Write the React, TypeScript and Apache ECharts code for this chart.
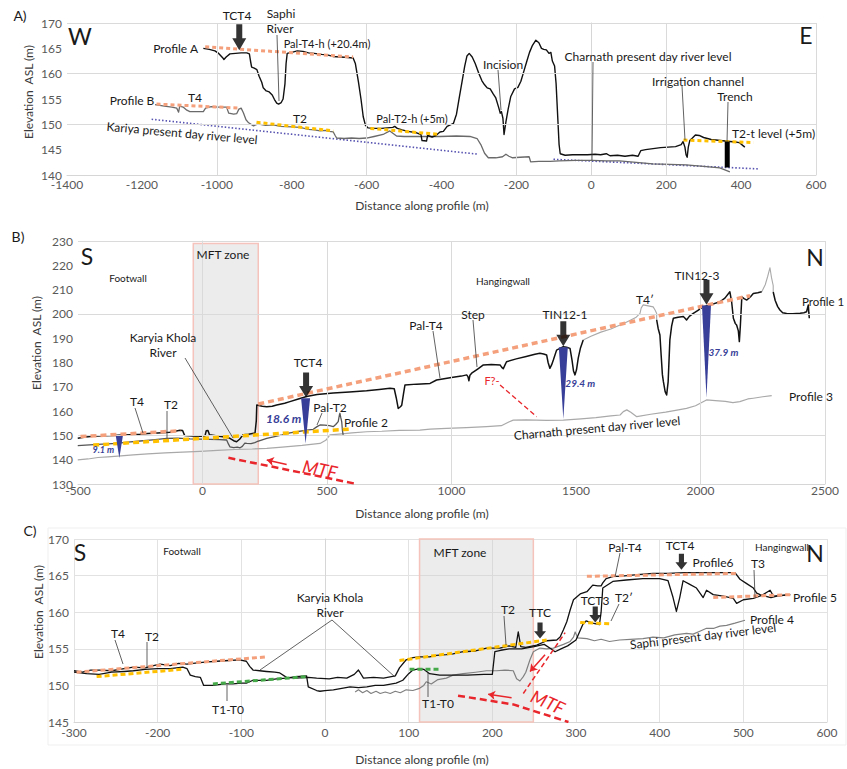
import React, { useEffect, useRef } from "react";
import * as echarts from "echarts";

const FONT = "Lato, 'Noto Sans', sans-serif";

// ---------- Panel A: W–E profiles ----------
const profileA: number[][] = [
  [-1036, 165.0], [-1020, 164.8], [-1005, 164.5], [-995, 164.0], [-985, 163.2], [-981, 162.8], [-975, 163.3],
  [-965, 163.9], [-950, 164.0], [-935, 164.1], [-920, 164.1], [-913, 163.9], [-910, 162.5], [-907, 161.3],
  [-900, 161.1], [-893, 160.8], [-887, 159.5], [-880, 158.3], [-876, 157.2], [-868, 156.6], [-860, 156.4],
  [-852, 155.8], [-846, 154.9], [-840, 154.2], [-835, 154.0], [-828, 154.3], [-823, 155.0], [-818, 158.0],
  [-815, 162.0], [-812, 164.0], [-800, 164.2], [-785, 164.5], [-770, 164.4], [-755, 164.1], [-740, 164.0],
  [-720, 163.8], [-705, 163.7], [-690, 163.4], [-670, 163.3], [-650, 163.2], [-636, 163.1], [-630, 162.0],
  [-622, 158.5], [-615, 155.0], [-609, 151.5], [-603, 149.8], [-596, 149.3], [-580, 149.2], [-560, 149.2],
  [-545, 149.3], [-530, 149.4], [-525, 149.6], [-518, 149.2], [-505, 148.9], [-490, 148.6], [-470, 148.4],
  [-455, 148.0], [-452, 146.8], [-440, 146.7], [-437, 147.8], [-425, 147.5], [-415, 147.8], [-404, 148.5],
  [-395, 148.6], [-385, 149.6], [-368, 150.2], [-360, 152.0], [-352, 155.5], [-345, 158.5], [-338, 161.5],
  [-332, 163.5], [-326, 164.0], [-318, 163.3], [-310, 162.0], [-300, 160.0], [-292, 158.6], [-285, 157.8],
  [-278, 157.2], [-270, 157.0], [-262, 156.0], [-255, 155.2], [-248, 153.5], [-243, 152.2], [-240, 152.5],
  [-236, 151.2], [-233, 148.0], [-228, 150.5], [-222, 153.0], [-215, 155.5], [-205, 157.0], [-196, 157.3],
  [-188, 158.5], [-180, 160.5], [-172, 162.5], [-165, 164.2], [-157, 165.6], [-148, 166.6], [-140, 166.1],
  [-133, 165.0], [-127, 164.8], [-120, 164.7], [-113, 164.0], [-108, 164.2], [-104, 162.5], [-98, 161.5],
  [-94, 158.0], [-90, 152.0], [-86, 146.0], [-83, 144.2], [-70, 143.9], [-50, 144.0], [-30, 144.0],
  [-10, 144.0], [10, 144.1], [25, 144.0], [40, 144.2], [50, 143.8], [70, 143.9], [90, 143.7], [110, 143.9],
  [125, 143.7], [132, 144.8], [145, 145.0], [165, 145.2], [185, 145.4], [205, 145.5], [225, 145.6],
  [240, 146.0], [245, 146.6], [250, 145.5], [253, 144.0], [256, 143.5], [259, 145.5], [263, 146.8],
  [270, 147.3], [278, 147.9], [288, 147.8], [300, 147.4], [320, 147.0], [345, 146.8], [370, 146.6],
  [385, 146.5], [395, 146.4], [405, 145.8], [410, 145.5],
];
const profileB: number[][] = [
  [-1165, 153.9], [-1140, 153.6], [-1120, 153.4], [-1107, 153.2], [-1102, 152.4], [-1099, 153.6],
  [-1090, 153.4], [-1080, 152.8], [-1072, 152.5], [-1050, 152.5], [-1036, 152.5], [-1030, 153.2],
  [-1015, 153.5], [-995, 153.4], [-974, 153.4], [-968, 152.2], [-955, 152.0], [-947, 152.1], [-941, 153.0],
  [-935, 153.2], [-929, 152.3], [-922, 150.9], [-915, 150.3], [-902, 149.7], [-893, 150.0], [-884, 150.0],
  [-870, 149.8], [-849, 149.9], [-830, 149.6], [-800, 149.5], [-778, 149.4], [-755, 149.0], [-740, 148.9],
  [-724, 148.7], [-710, 148.8], [-700, 148.6], [-689, 148.5], [-684, 147.8], [-680, 147.3], [-660, 147.2],
  [-640, 147.3], [-620, 147.2], [-600, 147.3], [-580, 147.6], [-556, 148.0], [-538, 148.7], [-520, 147.7],
  [-500, 147.6], [-470, 147.6], [-440, 147.6], [-404, 147.6], [-360, 147.7], [-324, 147.6], [-305, 147.2],
  [-295, 146.0], [-285, 144.3], [-275, 143.4], [-255, 143.4], [-237, 143.6], [-228, 144.1], [-220, 143.7],
  [-210, 143.4], [-190, 143.5], [-166, 143.6], [-162, 142.6], [-140, 142.7], [-110, 142.7], [-86, 142.8],
  [-40, 142.9], [3, 142.9], [40, 142.8], [75, 142.8], [120, 142.5], [164, 142.2], [210, 142.1],
  [253, 142.0], [300, 141.7], [343, 141.4], [360, 140.9], [370, 140.6],
];
const kariyaRiverA: number[][] = [[-1174, 151.0], [-302, 144.1]];
const charnathRiverA: number[][] = [[-101, 143.1], [446, 141.2]];
const palT4hA: number[][] = [[-1031, 165.3], [-636, 163.3]];
const t4A: number[][] = [[-1161, 154.0], [-938, 153.2]];
const t2A: number[][] = [[-894, 150.4], [-689, 148.7]];
const palT2hA: number[][] = [[-590, 149.2], [-404, 148.0]];
const t2tA: number[][] = [[246, 146.9], [433, 146.4]];
const trenchA: number[][] = [[363, 146.6], [363, 141.5]];

// ---------- Panel B: S–N profiles ----------
const profile1West: number[][] = [
  [-501, 148.8], [-470, 149.3], [-440, 149.6], [-400, 149.9], [-360, 150.0], [-320, 150.2], [-290, 150.3],
  [-251, 150.5], [-220, 150.8], [-180, 151.0], [-131, 151.3], [-105, 151.8], [-90, 152.1], [-80, 152.0],
  [-72, 150.0], [-40, 149.8], [-10, 149.6], [10, 149.8], [15, 151.9], [22, 152.0], [28, 150.3], [60, 149.8],
  [90, 149.3], [110, 148.8], [125, 147.8], [137, 147.4], [150, 148.5], [163, 150.3], [185, 150.5],
  [211, 151.0], [216, 156.0], [218, 162.5], [240, 162.0], [258, 161.8], [280, 162.0], [298, 162.5],
  [330, 163.2], [351, 163.9], [385, 165.0], [418, 166.0], [460, 166.8], [525, 167.4], [590, 167.9],
  [659, 168.4], [710, 168.9], [753, 169.4], [770, 169.2], [778, 165.5], [786, 161.1], [795, 161.8],
  [800, 162.4], [807, 167.0], [813, 170.7], [860, 171.1], [914, 171.4], [940, 172.8], [1000, 173.8],
  [1040, 174.4], [1061, 174.9], [1066, 174.2], [1070, 172.5], [1074, 174.8], [1081, 175.6], [1105, 177.3],
  [1128, 179.0], [1160, 179.2], [1195, 179.0], [1202, 178.0], [1208, 177.4], [1214, 178.8], [1221, 180.3],
  [1260, 181.5], [1300, 182.5], [1335, 183.4], [1355, 183.8], [1370, 183.5], [1382, 183.1], [1388, 180.0],
  [1395, 177.6], [1402, 179.0], [1409, 181.0], [1422, 185.1], [1449, 186.5], [1462, 186.3], [1476, 185.8],
  [1484, 181.0], [1490, 176.5], [1496, 174.9], [1502, 177.0], [1509, 181.8], [1518, 186.0], [1529, 189.3],
];
const profile1Central: number[][] = [
  [1824, 197.5], [1830, 194.0], [1837, 191.3], [1842, 183.0], [1847, 175.0], [1851, 172.1], [1858, 168.0],
  [1864, 166.6], [1870, 172.0], [1877, 189.3], [1884, 195.0], [1891, 198.2], [1910, 198.6], [1931, 198.9],
  [1938, 198.2], [1944, 197.5], [1955, 199.0], [1971, 200.2], [1990, 201.5], [2011, 203.0], [2040, 203.7],
  [2078, 205.0], [2098, 206.5], [2118, 209.1], [2125, 205.0], [2132, 198.2], [2140, 196.0], [2145, 195.4],
  [2152, 193.0], [2156, 188.6], [2160, 195.0], [2166, 207.0], [2175, 206.3], [2186, 205.7], [2200, 207.0],
  [2212, 208.4], [2230, 208.7], [2246, 209.1],
];
const profile1East: number[][] = [
  [2292, 209.0], [2300, 205.5], [2310, 203.0], [2319, 201.6], [2330, 200.5], [2346, 200.2], [2370, 200.1],
  [2386, 200.2], [2400, 200.3], [2415, 200.5], [2426, 200.9], [2433, 203.7], [2435, 200.5], [2437, 198.2],
];
const profile1Gap1: number[][] = [
  [1529, 189.3], [1560, 190.8], [1600, 192.5], [1640, 193.8], [1677, 195.4], [1700, 196.5], [1720, 197.5],
  [1740, 198.5], [1757, 200.2], [1762, 202.5], [1770, 203.7], [1790, 203.3], [1810, 202.9], [1818, 201.5],
  [1824, 200.2], [1824, 197.5],
];
const profile1Gap2: number[][] = [
  [2246, 209.1], [2260, 212.0], [2270, 215.5], [2279, 219.0], [2285, 215.0], [2292, 211.6], [2292, 209.0],
];
const profile2: number[][] = [
  [-501, 145.8], [-470, 146.0], [-420, 146.3], [-345, 146.7], [-300, 147.2], [-250, 147.7], [-200, 148.2],
  [-144, 148.8], [-100, 148.9], [-50, 148.6], [-10, 148.5], [30, 148.4], [70, 148.3], [97, 148.1],
  [104, 146.5], [110, 145.3], [125, 145.0], [140, 145.2], [151, 144.9], [160, 145.5], [170, 146.8],
  [178, 146.7], [195, 146.6], [210, 147.0], [218, 147.4], [240, 148.2], [258, 148.8], [290, 149.5],
  [320, 150.2], [351, 151.0], [385, 151.6], [418, 152.2], [445, 152.5], [460, 153.6], [472, 154.3],
  [490, 154.2], [510, 154.0], [525, 153.6], [535, 154.5], [545, 155.7], [550, 158.5], [552, 159.1],
  [555, 157.5], [559, 155.7], [562, 152.0], [565, 150.2],
];
const profile3: number[][] = [
  [-501, 139.9], [-460, 140.3], [-420, 140.9], [-380, 141.2], [-340, 141.5], [-278, 142.0], [-220, 142.4],
  [-150, 142.8], [-80, 143.1], [-10, 143.4], [60, 143.8], [130, 144.2], [200, 144.4], [258, 144.7],
  [320, 145.2], [400, 145.9], [472, 146.7], [495, 148.0], [512, 150.2], [560, 150.6], [600, 151.0],
  [659, 151.5], [720, 151.7], [790, 152.1], [873, 152.2], [914, 152.6], [980, 152.9], [1060, 153.2],
  [1141, 153.6], [1200, 154.0], [1230, 155.5], [1248, 156.3], [1300, 156.4], [1380, 156.2], [1449, 156.3],
  [1520, 156.8], [1580, 157.3], [1640, 158.0], [1677, 158.4], [1690, 159.8], [1704, 160.5], [1720, 159.5],
  [1744, 157.7], [1800, 158.7], [1860, 159.6], [1900, 160.3], [1944, 161.1], [1980, 162.2], [2024, 164.6],
  [2060, 164.3], [2100, 164.0], [2130, 163.5], [2158, 163.9], [2190, 165.0], [2212, 165.3], [2250, 165.9],
  [2286, 166.4],
];
const palT4B: number[][] = [[224, 162.9], [2199, 207.5]];
const t4B: number[][] = [[-490, 149.5], [-88, 151.9]];
const palT2B: number[][] = [[-439, 146.0], [592, 152.6]];
const mtfB: number[][] = [[104, 140.8], [620, 130.0]];
const faultB: number[][] = [[1195, 170.7], [1342, 157.7]];
const slipB: number[][] = [[338, 138.0], [258, 139.9]];
const mftZoneB: number[] = [-37, 224];
// vertical offsets of terrace surfaces above the river (m)
const offsetX: number[] = [-334, 414, 1449, 2024];
const offsetTop: number[] = [149.8, 165.3, 186.3, 203.5];
const offsetValue: number[] = [9.1, 18.6, 29.4, 37.9];

// ---------- Panel C: S–N profiles ----------
const profile6: number[][] = [
  [-300, 152.0], [-290, 151.8], [-280, 152.1], [-269, 152.1], [-255, 152.0], [-240, 152.3], [-229, 152.5],
  [-215, 152.4], [-205, 152.7], [-197, 152.9], [-185, 152.7], [-175, 153.0], [-165, 152.9], [-150, 153.1],
  [-140, 153.2], [-129, 153.3], [-115, 153.4], [-102, 153.5], [-94, 153.3], [-90, 152.6], [-86, 152.1],
  [-78, 152.0], [-70, 151.9], [-60, 151.8], [-54, 151.7], [-46, 151.1], [-35, 151.0], [-20, 151.1],
  [-10, 151.0], [5, 150.9], [15, 151.1], [26, 151.0], [35, 151.5], [40, 152.1], [46, 151.0], [58, 151.1],
  [70, 151.0], [84, 151.3], [89, 152.4], [97, 153.5], [105, 153.8], [113, 153.9], [125, 153.9], [133, 154.1],
  [145, 154.2], [153, 154.3], [165, 154.6], [180, 154.7], [193, 155.1], [209, 155.1], [220, 155.4],
  [228, 155.2], [231, 157.3], [234, 155.3], [240, 155.2], [253, 155.5], [265, 156.1], [277, 156.2],
  [281, 156.6], [285, 157.6], [289, 158.7], [293, 160.3], [297, 161.7], [305, 162.5], [313, 162.8],
  [320, 163.7], [326, 163.6], [330, 163.6], [332, 164.0], [336, 164.6], [345, 164.9], [352, 164.9],
  [370, 165.1], [392, 165.3], [410, 165.3], [430, 165.4], [450, 165.4], [470, 165.4], [490, 165.4],
  [496, 164.5], [504, 163.9], [512, 163.3], [516, 162.6], [520, 162.4], [526, 162.2], [533, 162.0],
  [540, 162.2], [548, 162.3], [556, 162.4],
];
const profile5: number[][] = [
  [-300, 151.8], [-285, 151.6], [-270, 151.5], [-255, 151.8], [-240, 151.9], [-229, 152.0], [-215, 152.2],
  [-200, 152.3], [-185, 152.3], [-170, 152.5], [-165, 152.3], [-161, 151.4], [-155, 151.2], [-149, 151.1],
  [-145, 150.0], [-134, 150.0], [-120, 150.2], [-110, 150.2], [-100, 150.3], [-94, 150.3], [-86, 150.7],
  [-70, 150.7], [-58, 150.9], [-46, 151.0], [-35, 151.2], [-22, 151.3], [-20, 149.8], [-10, 149.3],
  [-6, 149.2], [0, 149.3], [10, 149.4], [20, 149.6], [30, 149.8], [40, 149.7], [50, 149.8], [60, 150.0],
  [70, 150.0], [80, 150.2], [85, 150.3], [93, 150.7], [100, 151.6], [105, 152.1], [113, 152.3],
  [118, 152.2], [125, 151.6], [137, 151.4], [150, 151.4], [170, 151.4], [190, 151.5], [200, 151.5],
  [203, 154.6], [210, 154.8], [220, 155.0], [235, 155.0], [250, 155.3], [262, 155.6], [270, 155.0],
  [275, 154.6], [282, 155.0], [290, 155.4], [300, 156.2], [308, 158.3], [312, 158.8], [320, 158.5],
  [328, 158.3], [330, 160.0], [332, 163.3], [344, 164.2], [360, 164.4], [380, 164.6], [400, 164.6],
  [410, 164.3], [416, 162.0], [420, 160.1], [424, 162.0], [428, 164.3], [436, 163.8], [444, 163.3],
  [452, 162.0], [456, 163.0], [464, 162.4], [476, 162.2], [488, 161.9], [492, 161.2], [500, 161.7],
  [512, 161.9], [522, 162.3], [532, 163.0], [536, 162.2], [546, 162.3], [556, 162.4],
];
const profile4: number[][] = [
  [36, 149.1], [40, 149.4], [45, 149.0], [50, 149.3], [55, 148.9], [61, 149.2], [66, 148.9], [72, 149.1],
  [78, 148.9], [84, 149.2], [90, 149.0], [97, 149.4], [105, 149.3], [113, 149.6], [118, 150.0],
  [121, 150.5], [127, 150.2], [135, 150.8], [145, 151.0], [153, 151.4], [165, 151.6], [180, 151.8],
  [193, 152.0], [205, 152.0], [215, 152.1], [225, 152.0], [229, 150.9], [233, 150.6], [237, 151.2],
  [240, 151.8], [245, 153.5], [249, 154.6], [257, 155.1], [265, 155.0], [273, 155.1], [285, 155.6],
  [293, 156.0], [297, 156.6], [299, 157.3], [302, 156.5], [313, 156.4], [322, 156.1], [330, 156.3],
  [340, 156.0], [352, 156.2], [365, 156.3], [380, 156.4], [392, 156.6], [405, 156.5], [418, 156.9],
  [432, 157.1], [440, 157.0], [448, 157.4], [456, 157.8], [465, 157.8], [472, 158.1], [480, 158.2],
  [490, 158.5], [502, 158.9],
];
const t4C: number[][] = [[-297, 151.8], [-70, 153.9]];
const t2C: number[][] = [[-273, 151.2], [-171, 152.2]];
const t1t0C: number[][] = [[-134, 150.2], [-22, 151.2]];
const t1t0MftC: number[][] = [[101, 152.2], [139, 152.2]];
const t2MftC: number[][] = [[89, 153.4], [265, 156.2]];
const palT4C: number[][] = [[313, 164.9], [492, 165.3]];
const t3C: number[][] = [[464, 162.0], [556, 162.4]];
const t2PrimeC: number[][] = [[305, 158.6], [342, 158.4]];
const mtfC: number[][] = [[159, 148.6], [225, 147.4], [291, 145.0]];
const splayC: number[][] = [[237, 148.9], [287, 157.2]];
const slipC1: number[][] = [[263, 154.2], [245, 151.9]];
const slipC2: number[][] = [[223, 148.3], [195, 148.8]];
const mftZoneC: number[] = [113, 249];

// Sample sites (arrow tips)
const sitesA: [string, number, number][] = [["TCT4", -940, 164.6]];
const sitesB: [string, number, number][] = [["TCT4", 416, 165.6], ["TIN12-1", 1449, 186.7], ["TIN12-3", 2024, 203.8]];
const sitesC: [string, number, number][] = [["TTC", 257, 156.4], ["TCT3", 323, 158.6], ["TCT4", 426, 165.8]];

const ORANGE = "#f5a07c";
const YELLOW = "#ffc000";
const GREEN = "#45a849";
const RED = "#e8262b";
const PURPLE = "#5652b0";
const BLUE = "#383f98";
const ARROW = "path://M4,0 L10,0 L10,14 L14,14 L7,26 L0,14 L4,14 Z";

function line(g: number, data: number[][], color: string, width: number, type: any = "solid", z = 4) {
  return {
    type: "line", xAxisIndex: g, yAxisIndex: g, data, symbol: "none", showSymbol: false,
    silent: true, z, lineStyle: { color, width, type, cap: "butt", join: "round" },
  };
}

function frame(g: number, corner: number[], xs: number[], ys: number[], zone?: number[], zoneY?: number[]) {
  const s: any = {
    type: "line", xAxisIndex: g, yAxisIndex: g, data: [corner], symbol: "none", silent: true, z: 1,
    lineStyle: { width: 0 },
    markLine: {
      silent: true, symbol: "none", label: { show: false },
      lineStyle: { color: "#dadada", width: 1, type: "solid" },
      data: [...xs.map((v) => ({ xAxis: v })), ...ys.map((v) => ({ yAxis: v }))],
    },
  };
  if (zone) {
    const a: any = { xAxis: zone[0] };
    const b: any = { xAxis: zone[1] };
    if (zoneY) {
      a.yAxis = zoneY[0];
      b.yAxis = zoneY[1];
    }
    s.markArea = {
      silent: true,
      itemStyle: { color: "rgba(205,205,205,0.38)", borderColor: "#f5c3bb", borderWidth: 1.5 },
      data: [[a, b]],
    };
  }
  return s;
}

function arrows(g: number, sites: [string, number, number][], w: number, h: number) {
  return {
    type: "scatter", xAxisIndex: g, yAxisIndex: g, silent: true, z: 8,
    symbol: ARROW, symbolSize: [w, h], symbolOffset: [0, "-50%"],
    itemStyle: { color: "#000" },
    data: sites.map((s) => ({ name: s[0], value: [s[1], s[2]] })),
  };
}

function slip(g: number, seg: number[][]) {
  return {
    type: "line", xAxisIndex: g, yAxisIndex: g, data: [seg[0]], symbol: "none", silent: true, z: 6,
    lineStyle: { width: 0 },
    markLine: {
      silent: true, symbol: ["none", "arrow"], symbolSize: 7, label: { show: false },
      lineStyle: { color: RED, width: 1.5, type: "solid" },
      data: [[{ coord: seg[0] }, { coord: seg[1] }]],
    },
  };
}

function txt(x: number, y: number, text: string, o: any = {}) {
  return {
    type: "text", x, y, rotation: o.rot || 0, silent: true, z: 100,
    style: {
      text, fill: o.color || "#1a1a1a", fontSize: o.size || 12, fontFamily: FONT,
      fontStyle: o.italic ? "italic" : "normal", fontWeight: o.bold ? "bold" : "normal",
      align: o.align || "center", verticalAlign: "middle",
    },
  };
}
function lead(x1: number, y1: number, x2: number, y2: number) {
  return { type: "line", silent: true, z: 99, shape: { x1, y1, x2, y2 }, style: { stroke: "#3a3a3a", lineWidth: 0.8 } };
}

const axisLabel = (margin: number) => ({
  color: "#595959", fontSize: 12, lineHeight: 11, fontFamily: FONT, margin, formatter: (v: number) => String(v),
});
function xAx(g: number, min: number, max: number, interval: number, margin: number, split: boolean) {
  return {
    gridIndex: g, type: "value", min, max, interval,
    axisLine: { show: true, onZero: false, lineStyle: { color: "#d6d6d6" } },
    axisTick: { show: false }, axisLabel: axisLabel(margin),
    splitLine: { show: split, lineStyle: { color: "#e2e2e2" } },
  };
}
function yAx(g: number, min: number, max: number, interval: number, split: boolean) {
  return {
    gridIndex: g, type: "value", min, max, interval,
    axisLine: { show: true, lineStyle: { color: "#d6d6d6" } },
    axisTick: { show: false }, axisLabel: axisLabel(5),
    splitLine: { show: split, lineStyle: { color: "#e2e2e2" } },
  };
}

const labelShift: number[][] = [[-16, 14], [-22, 20], [17, 36], [17, 47]];

export default function App() {
  const ref = useRef<HTMLDivElement>(null);
  useEffect(() => {
    if (!ref.current) return;
    const chart = echarts.init(ref.current, undefined, { renderer: "svg" });

    const offsets = {
      type: "custom", xAxisIndex: 1, yAxisIndex: 1, silent: true, z: 7,
      data: offsetX.map((x, i) => [x, offsetTop[i], offsetValue[i], i]),
      renderItem: (_p: any, api: any) => {
        const x = api.value(0), top = api.value(1), v = api.value(2), i = api.value(3);
        const a = api.coord([x, top]);
        const b = api.coord([x, top - v]);
        const hw = i === 0 ? 3.5 : 4.5;
        const sh = labelShift[i];
        return {
          type: "group",
          children: [
            { type: "polygon", shape: { points: [[a[0] - hw, a[1]], [a[0] + hw, a[1]], [b[0], b[1]]] }, style: { fill: BLUE } },
            {
              type: "text", x: a[0] + sh[0], y: a[1] + sh[1],
              style: {
                text: `${v} m`, fill: BLUE, fontFamily: FONT, fontStyle: "italic", fontWeight: "bold",
                fontSize: i === 0 ? 9 : i === 1 ? 12 : 10, align: "center", verticalAlign: "middle",
              },
            },
          ],
        };
      },
    };

    const graphic: any[] = [
      { type: "rect", silent: true, z: 0, shape: { x: 48, y: 528, width: 798, height: 217 }, style: { fill: "none", stroke: "#efefef", lineWidth: 1 } },
      // axis titles
      txt(28, 92, "Elevation  ASL (m)", { rot: Math.PI / 2, color: "#3a3a3a" }),
      txt(36, 343, "Elevation  ASL (m)", { rot: Math.PI / 2, color: "#3a3a3a" }),
      txt(38, 612, "Elevation  ASL (m)", { rot: Math.PI / 2, color: "#3a3a3a" }),
      txt(422, 205, "Distance along profile (m)", { color: "#3a3a3a" }),
      txt(422, 513, "Distance along profile (m)", { color: "#3a3a3a" }),
      txt(422, 759, "Distance along profile (m)", { color: "#3a3a3a" }),
      // panel A
      txt(20, 15, "A)", { size: 14 }),
      txt(80, 36, "W", { size: 23 }),
      txt(806, 35, "E", { size: 23 }),
      txt(237, 15, "TCT4"),
      txt(281, 13, "Saphi"), txt(280, 28, "River"),
      lead(277, 35, 279, 101),
      txt(198, 48, "Profile A", { align: "right" }),
      txt(327, 43, "Pal-T4-h (+20.4m)", { size: 11 }),
      txt(132, 100, "Profile B"),
      txt(195, 97, "T4"),
      txt(300, 118, "T2"),
      txt(182, 133, "Kariya present day river level", { rot: -0.09 }),
      txt(412, 118, "Pal-T2-h (+5m)", { size: 11 }),
      txt(503, 64, "Incision"), lead(498, 70, 501, 110),
      txt(648, 56, "Charnath present day river level"), lead(593, 62, 592, 160),
      txt(698, 81, "Irrigation channel"), lead(682, 86, 685, 140),
      txt(735, 96, "Trench"), lead(728, 102, 727, 142),
      txt(732, 133, "T2-t level (+5m)", { align: "left" }),
      // panel B
      txt(18, 236, "B)", { size: 14 }),
      txt(87, 256, "S", { size: 23 }),
      txt(128, 278, "Footwall", { size: 10 }),
      txt(223, 254, "MFT zone"),
      txt(503, 281, "Hangingwall", { size: 10 }),
      txt(815, 257, "N", { size: 23 }),
      txt(163, 337, "Karyia Khola"), txt(163, 352, "River"),
      lead(185, 358, 233, 438),
      txt(308, 362, "TCT4"),
      txt(330, 407, "Pal-T2"), lead(322, 413, 317, 425),
      txt(366, 422, "Profile 2"),
      txt(137, 401, "T4"), lead(135, 408, 143, 433),
      txt(171, 404, "T2"), lead(167, 411, 167, 438),
      txt(320, 469, "MTF", { color: RED, size: 18, italic: true, rot: -0.2 }),
      txt(426, 325, "Pal-T4"), lead(433, 331, 440, 378),
      txt(473, 314, "Step"), lead(473, 320, 477, 367),
      txt(565, 314, "TIN12-1"),
      txt(645, 299, "T4\u2032"),
      txt(697, 275, "TIN12-3"),
      txt(802, 301, "Profile 1", { align: "left", size: 11.5 }),
      txt(789, 396, "Profile 3", { align: "left" }),
      txt(492, 380, "F?-", { color: RED, size: 11 }),
      txt(597, 428, "Charnath present day river level", { rot: 0.09 }),
      // panel C
      txt(30, 530, "C)", { size: 14 }),
      txt(80, 552, "S", { size: 23 }),
      txt(182, 551, "Footwall", { size: 10 }),
      txt(460, 552, "MFT zone"),
      txt(782, 547, "Hangingwall", { size: 10 }),
      txt(815, 553, "N", { size: 23 }),
      txt(330, 597, "Karyia Khola"), txt(330, 612, "River"),
      lead(332, 620, 260, 670), lead(332, 620, 395, 677),
      txt(118, 633, "T4"), lead(115, 640, 123, 664),
      txt(152, 636, "T2"), lead(147, 642, 147, 667),
      txt(228, 709, "T1-T0"), lead(227, 701, 227, 685),
      txt(438, 703, "T1-T0"), lead(428, 697, 428, 672),
      txt(508, 609, "T2"), lead(504, 616, 506, 645),
      txt(540, 612, "TTC"),
      txt(595, 600, "TCT3"),
      txt(624, 597, "T2\u2032"), lead(619, 604, 611, 621),
      txt(625, 547, "Pal-T4"), lead(620, 553, 615, 577),
      txt(680, 545, "TCT4"),
      txt(713, 562, "Profile6"),
      txt(758, 563, "T3"), lead(754, 570, 755, 597),
      txt(793, 597, "Profile 5", { align: "left" }),
      txt(750, 619, "Profile 4", { align: "left" }),
      txt(703, 636, "Saphi present day river level", { rot: 0.12 }),
      txt(548, 702, "MTF", { color: RED, size: 18, italic: true, rot: -0.42 }),
    ];

    const option: any = {
      animation: false,
      backgroundColor: "#fff",
      textStyle: { fontFamily: FONT },
      grid: [
        { left: 67, top: 23, width: 749, height: 152 },
        { left: 78, top: 241, width: 747, height: 243 },
        { left: 74, top: 539, width: 753, height: 183 },
      ],
      xAxis: [xAx(0, -1400, 600, 200, 4, false), xAx(1, -500, 2500, 500, 1, false), xAx(2, -300, 600, 100, 5, true)],
      yAxis: [yAx(0, 140, 170, 5, false), yAx(1, 130, 230, 10, false), yAx(2, 145, 170, 5, true)],
      graphic,
      series: [
        frame(0, [-1400, 140], [-1000, -600, -200, 200, 600], [150, 160, 170]),
        frame(1, [-500, 130], [0, 500, 1000, 2000, 2500], [150, 200, 230], mftZoneB, [229, 130]),
        frame(2, [-300, 145], [], [], mftZoneC),

        // A
        line(0, kariyaRiverA, PURPLE, 1.6, [1.5, 2], 3),
        line(0, charnathRiverA, PURPLE, 1.6, [1.5, 2], 3),
        line(0, profileB, "#6a6a6a", 1.3),
        line(0, profileA, "#111", 1.4),
        line(0, palT4hA, ORANGE, 3, [4, 3], 5),
        line(0, t4A, ORANGE, 3, [4, 3], 5),
        line(0, t2A, YELLOW, 3, [4, 3], 5),
        line(0, palT2hA, YELLOW, 3, [4, 3], 5),
        line(0, t2tA, YELLOW, 3, [4, 3], 5),
        line(0, trenchA, "#000", 5, "solid", 6),
        arrows(0, sitesA, 14, 26),

        // B
        line(1, profile3, "#a9a9a9", 1.2),
        line(1, profile2, "#555", 1.3),
        line(1, profile1Gap1, "#a9a9a9", 1.1),
        line(1, profile1Gap2, "#a9a9a9", 1.1),
        line(1, profile1West, "#111", 1.5),
        line(1, profile1Central, "#111", 1.5),
        line(1, profile1East, "#111", 1.5),
        line(1, palT4B, ORANGE, 3.5, [6, 4], 5),
        line(1, t4B, ORANGE, 3.5, [6, 4], 5),
        line(1, palT2B, YELLOW, 3.5, [6, 4], 5),
        line(1, mtfB, RED, 2.5, [7, 4], 5),
        line(1, faultB, RED, 1.3, [5, 3], 5),
        slip(1, slipB),
        offsets,
        arrows(1, sitesB, 14, 25),

        // C
        line(2, profile4, "#808080", 1.2),
        line(2, profile5, "#111", 1.3),
        line(2, profile6, "#111", 1.3),
        line(2, t4C, ORANGE, 3, [5, 3], 5),
        line(2, t2C, YELLOW, 3, [5, 3], 5),
        line(2, t1t0C, GREEN, 3, [5, 3], 5),
        line(2, t1t0MftC, GREEN, 3, [5, 3], 5),
        line(2, t2MftC, YELLOW, 3, [5, 3], 5),
        line(2, palT4C, ORANGE, 3, [5, 3], 5),
        line(2, t3C, ORANGE, 3, [5, 3], 5),
        line(2, t2PrimeC, YELLOW, 3, [5, 3], 5),
        line(2, mtfC, RED, 2.5, [7, 4], 5),
        line(2, splayC, RED, 1.5, [5, 3], 5),
        slip(2, slipC1),
        slip(2, slipC2),
        arrows(2, sitesC, 12, 16),
      ],
    };
    chart.setOption(option);
    return () => chart.dispose();
  }, []);
  return (
    <div
      ref={ref}
      style={{ position: "absolute", left: 0, top: 0, width: 847, height: 769, background: "#fff" }}
    />
  );
}
